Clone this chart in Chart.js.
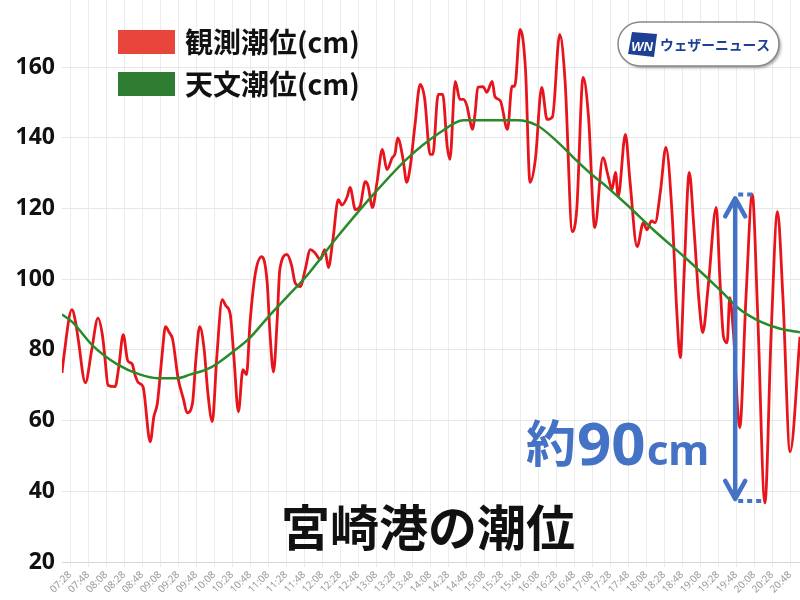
<!DOCTYPE html>
<html>
<head>
<meta charset="utf-8">
<script src="https://cdn.jsdelivr.net/npm/chart.js@4.4.0/dist/chart.umd.min.js"></script>
<style>
  body { margin: 0; background: #fff; }
  #wrap { width: 800px; height: 600px; }
</style>
</head>
<body>
<div id="wrap"><canvas id="tide" width="800" height="600"></canvas></div>
<script>
// x values are minutes after 07:28
const tickLabels = ['07:28','07:48','08:08','08:28','08:48','09:08','09:28','09:48','10:08','10:28',
  '10:48','11:08','11:28','11:48','12:08','12:28','12:48','13:08','13:28','13:48','14:08','14:28',
  '14:48','15:08','15:28','15:48','16:08','16:28','16:48','17:08','17:28','17:48','18:08','18:28',
  '18:48','19:08','19:28','19:48','20:08','20:28','20:48'];
const yTicks = [20, 40, 60, 80, 100, 120, 140, 160];

// 観測潮位
const obsMinutes = [-9,-7,2,6,9,17,24,31,36,39,42,50,54,59,64,69,72,76,81,89,93,97,102,106,110,114,
  120,126,130,136,140,144,149,153,158,163,169,173,178,182,187,192,196,200,206,213,219,222,226,230,
  233,241,246,250,256,261,267,272,278,283,287,292,298,302,308,311,317,322,328,331,336,341,347,352,
  358,361,364,370,374,378,383,389,394,400,403,409,414,419,422,428,433,437,441,444,447,450,453,459,
  463,469,472,478,486,491,494,500,506,511,517,524,530,536,544,550,558,563,570,576,583,592,598,602,
  606,609,617,622,630,637,641,646,650,656,662,669,674,678,682,688,693,699,703,709,718,722,726,730,
  733,737,744,751,758,764,772,779,786,792,800,811];
const obsLevels = [73.5,78,91.4,88,83,70.7,80,89,84,77,70,69.6,75,84.3,77,76,73,70.7,69.6,54,61,65,78,
  86.6,85,82.9,72,66,62.2,65,78,86.6,80,68,59.7,78,94.2,92.5,90,78,62.5,74.4,73,88,101.9,106.4,99,
  85,73.8,88,102.7,107,104,99,97.9,102.5,108.4,107.5,105.6,108.4,103.3,111.2,122.5,121,123.4,126,
  119.7,120.5,127.6,126.5,120.3,127.4,136.7,131,134.4,135.5,140,133.9,127.4,132,143.2,155.1,151,
  135.3,135.3,152.3,152.3,137.6,133.9,156,150.9,150.9,149,145.2,142.4,147,154.3,154.5,152.9,156,
  151.7,150.5,142.4,154.6,154.6,170.7,159.4,127.4,134,154.3,145.2,146,169.3,156,113.5,120,157.1,
  146,114.6,134.4,129,125.4,130.2,123.4,141,128,109.2,116,114,116.5,116,125,137.3,118,91.4,77.8,
  100,130.2,115,93,84.9,98,120.3,100,83.7,82,94.8,85,58,95,124,90,36.7,85,119.1,95,51.2,83.7];

// 天文潮位
const astroMinutes = [-9,2,26,52,78,97,119,133,156,181,200,219,241,263,297,337,374,411,437,497,519,
  541,559,578,597,619,648,686,722,744,767,789,811];
const astroLevels = [90,88,81,76,73,72,72,73,75,79.5,83.5,89,95,101,112,124,134,141.5,145,145,143.5,
  139,134.5,130,126,121,114,105.5,97,91.5,88,86,85];

const seriesNames = ['観測潮位(cm)', '天文潮位(cm)'];
const titleText = '宮崎港の潮位';
const rangeNote = ['約', '90', 'cm'];
const logoText = 'ウェザーニュース';
// arrow: minute, top and bottom level
const arrowAt = 739, arrowTop = 124, arrowBottom = 37;

const blue = '#4472c4';

const overlay = {
  id: 'overlay',
  afterDraw(chart) {
    const c = chart.ctx;
    const xs = chart.scales.x, ys = chart.scales.y;
    c.save();

    // legend
    const boxes = ['#e8453c', '#2e7d32'];
    seriesNames.forEach((name, i) => {
      const top = 30 + i * 42;
      c.fillStyle = boxes[i];
      c.fillRect(118, top, 57, 24);
      c.fillStyle = '#111';
      c.font = "bold 28px 'Noto Sans CJK JP'";
      c.textBaseline = 'middle';
      c.textAlign = 'left';
      c.fillText(name, 185, top + 12);
    });

    // logo
    c.shadowColor = 'rgba(0,0,0,0.35)';
    c.shadowOffsetX = 2; c.shadowOffsetY = 2; c.shadowBlur = 3;
    c.beginPath();
    c.roundRect(618, 22, 161, 44, 22);
    c.fillStyle = '#fff';
    c.fill();
    c.shadowColor = 'transparent';
    c.lineWidth = 1.5;
    c.strokeStyle = '#888';
    c.stroke();
    c.beginPath();
    c.moveTo(632, 32); c.lineTo(657, 34); c.lineTo(654, 57); c.lineTo(628, 54); c.closePath();
    c.fillStyle = '#1d3f94';
    c.fill();
    c.fillStyle = '#fff';
    c.font = "italic bold 13px 'Liberation Sans'";
    c.textAlign = 'center';
    c.fillText('WN', 642, 47);
    c.fillStyle = '#1d3f94';
    c.font = "bold 14px 'Noto Sans CJK JP'";
    c.textAlign = 'left';
    c.fillText(logoText, 660, 45, 110);

    // title
    c.fillStyle = '#111';
    c.font = "bold 49px 'Noto Sans CJK JP'";
    c.textAlign = 'center';
    c.textBaseline = 'alphabetic';
    c.fillText(titleText, 428, 546);

    // range note
    c.fillStyle = blue;
    c.textAlign = 'left';
    let tx = 526;
    c.font = "bold 50px 'Noto Sans CJK JP'";
    c.fillText(rangeNote[0], tx, 462);
    tx += c.measureText(rangeNote[0]).width + 1;
    c.font = "bold 60px 'Noto Sans'";
    c.fillText(rangeNote[1], tx, 465);
    tx += c.measureText(rangeNote[1]).width + 1;
    c.font = "bold 42px 'Noto Sans'";
    c.fillText(rangeNote[2], tx, 465);

    // arrow
    const ax = xs.getPixelForValue(arrowAt);
    const ay1 = ys.getPixelForValue(arrowTop) + 4;
    const ay2 = ys.getPixelForValue(arrowBottom) - 3;
    c.strokeStyle = blue;
    c.lineWidth = 4.5;
    c.lineCap = 'round';
    c.lineJoin = 'round';
    c.beginPath();
    c.moveTo(ax, ay1); c.lineTo(ax, ay2);
    c.moveTo(ax - 10, ay1 + 18); c.lineTo(ax, ay1); c.lineTo(ax + 10, ay1 + 18);
    c.moveTo(ax - 10, ay2 - 18); c.lineTo(ax, ay2); c.lineTo(ax + 10, ay2 - 18);
    c.stroke();
    c.lineCap = 'butt';
    c.setLineDash([5, 4]);
    c.lineWidth = 4;
    c.beginPath();
    c.moveTo(ax + 3, ay1 - 4); c.lineTo(ax + 18, ay1 - 4);
    c.moveTo(ax + 3, ay2 + 2); c.lineTo(ax + 27, ay2 + 2);
    c.stroke();
    c.restore();
  }
};

Chart.defaults.font.family = "'Noto Sans', 'Noto Sans CJK JP', sans-serif";

const ctx = document.getElementById('tide').getContext('2d');
const tideChart = new Chart(ctx, {
  type: 'line',
  data: {
    datasets: [{
      label: seriesNames[0],
      data: obsMinutes.map((m, i) => ({x: m, y: obsLevels[i]})),
      borderColor: '#e8141c',
      borderWidth: 2.8,
      pointRadius: 0,
      cubicInterpolationMode: 'monotone',
      order: 2
    }, {
      label: seriesNames[1],
      data: astroMinutes.map((m, i) => ({x: m, y: astroLevels[i]})),
      borderColor: '#2a8a2a',
      borderWidth: 2.5,
      pointRadius: 0,
      cubicInterpolationMode: 'monotone',
      order: 1
    }]
  },
  options: {
    responsive: false,
    animation: false,
    layout: {padding: 0},
    plugins: {legend: {display: false}, tooltip: {enabled: false}},
    scales: {
      x: {
        type: 'linear',
        min: -9, max: 811,
        afterBuildTicks: s => { s.ticks = tickLabels.map((t, i) => ({value: i * 20})); },
        afterFit: s => { s.height = 38; s.paddingLeft = 0; s.paddingRight = 0; },
        ticks: {
          autoSkip: false, minRotation: 45, maxRotation: 45, padding: 2,
          color: '#999', font: {size: 10},
          callback: (v, i) => tickLabels[i]
        },
        grid: {color: '#ececec', tickLength: 5},
        border: {color: '#d8d8d8'}
      },
      y: {
        min: 20, max: 179,
        afterBuildTicks: s => { s.ticks = yTicks.map(v => ({value: v})); },
        afterFit: s => { s.width = 62; s.paddingTop = 0; s.paddingBottom = 0; },
        ticks: {color: '#111', font: {size: 23, weight: 'bold'}, padding: 7},
        grid: {color: '#e6e6e6', drawTicks: false},
        border: {display: false}
      }
    }
  },
  plugins: [overlay]
});
</script>
</body>
</html>
